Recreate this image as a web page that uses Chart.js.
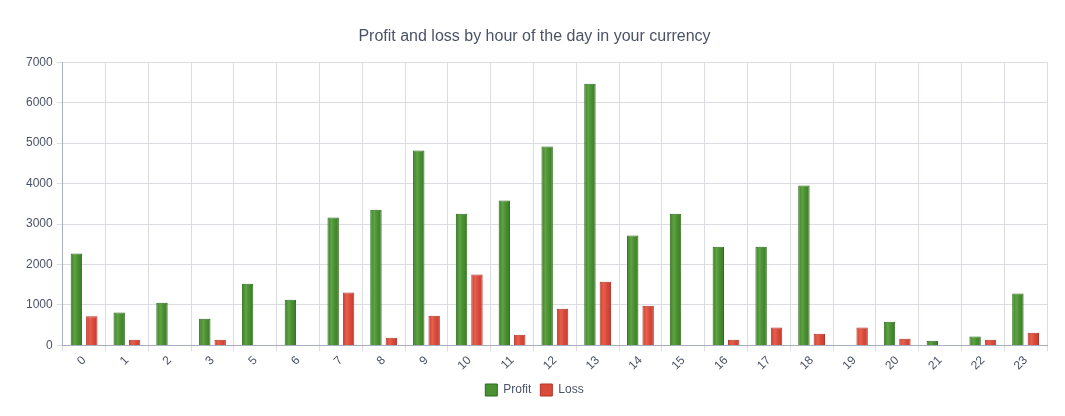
<!DOCTYPE html>
<html>
<head>
<meta charset="utf-8">
<script src="https://cdn.jsdelivr.net/npm/chart.js@4"></script>
<style>
  html, body { margin: 0; padding: 0; background: #fff; }
  #wrap { width: 1065px; height: 416px; }
</style>
</head>
<body>
<div id="wrap"><canvas id="chart"></canvas></div>
<script>
// hours (hour 4 has no trades and is missing from the axis)
const hours = ['0', '1', '2', '3', '5', '6', '7', '8', '9', '10', '11', '12',
               '13', '14', '15', '16', '17', '18', '19', '20', '21', '22', '23'];
const profit = [2270, 810, 1055, 660, 1525, 1130, 3160, 3355, 4815, 3255, 3580, 4915,
                6470, 2715, 3255, 2440, 2440, 3950, 0, 585, 115, 220, 1280];
const loss = [720, 140, 0, 140, 0, 0, 1305, 190, 735, 1750, 265, 905,
              1575, 980, 0, 140, 445, 290, 445, 165, 0, 140, 315];
const yTicks = [0, 1000, 2000, 3000, 4000, 5000, 6000, 7000];

// horizontal shading on each bar: dark edges, light band left of centre
const shades = [
    ['#3c7e26', '#5ea344', '#4a9132', '#3a7a24'],
    ['#cc3d30', '#e5604f', '#db4b3c', '#c83a2d']
];

const barShading = {
    id: 'barShading',
    beforeDatasetsDraw(chart) {
        const ctx = chart.ctx;
        chart.data.datasets.forEach((ds, i) => {
            chart.getDatasetMeta(i).data.forEach((bar) => {
                const half = bar.width / 2;
                const g = ctx.createLinearGradient(bar.x - half, 0, bar.x + half, 0);
                const c = shades[i];
                g.addColorStop(0, c[0]);
                g.addColorStop(0.35, c[1]);
                g.addColorStop(0.6, c[2]);
                g.addColorStop(1, c[3]);
                bar.options.backgroundColor = g;
            });
        });
    }
};

Chart.defaults.font.family = '"Liberation Sans", Arial, Helvetica, sans-serif';
Chart.defaults.color = '#4a5366';

new Chart(document.getElementById('chart'), {
    type: 'bar',
    data: {
        labels: hours,
        datasets: [
            {
                label: 'Profit',
                data: profit,
                // scriptable so every bar keeps its own options object
                backgroundColor: () => '#4b8e32',
                borderColor: '#2f6a1d',
                borderWidth: 1
            },
            {
                label: 'Loss',
                data: loss,
                backgroundColor: () => '#d9493c',
                borderColor: '#b3332a',
                borderWidth: 1
            }
        ]
    },
    options: {
        responsive: true,
        maintainAspectRatio: false,
        animation: false,
        layout: { padding: { left: 22, right: 18, top: 8, bottom: 10 } },
        datasets: {
            bar: { categoryPercentage: 0.72, barPercentage: 0.74 }
        },
        plugins: {
            title: {
                display: true,
                text: 'Profit and loss by hour of the day in your currency',
                color: '#4a5366',
                font: { size: 16, weight: 'normal' },
                padding: { top: 19, bottom: 16 }
            },
            legend: {
                position: 'bottom',
                labels: {
                    boxWidth: 12,
                    boxHeight: 12,
                    padding: 9,
                    font: { size: 12 },
                    color: '#4a5366',
                    generateLabels: (chart) => chart.data.datasets.map((ds, i) => ({
                        text: ds.label,
                        fillStyle: shades[i][2],
                        strokeStyle: ds.borderColor,
                        lineWidth: 1,
                        fontColor: '#4a5366',
                        hidden: false,
                        datasetIndex: i
                    }))
                }
            },
            tooltip: { enabled: false }
        },
        scales: {
            x: {
                grid: {
                    color: '#dcdde2',
                    offset: true,
                    tickLength: 6
                },
                border: { color: '#a7adba' },
                ticks: {
                    minRotation: 45,
                    maxRotation: 45,
                    font: { size: 12 },
                    color: '#4a5366',
                    padding: 2
                }
            },
            y: {
                min: 0,
                max: 7000,
                afterBuildTicks: (axis) => {
                    axis.ticks = yTicks.map(v => ({ value: v }));
                },
                grid: {
                    color: '#dcdde2',
                    tickLength: 6
                },
                border: { color: '#a7adba' },
                ticks: {
                    font: { size: 12 },
                    color: '#4a5366',
                    padding: 4,
                    callback: (value) => String(value)
                }
            }
        }
    },
    plugins: [barShading]
});
</script>
</body>
</html>
